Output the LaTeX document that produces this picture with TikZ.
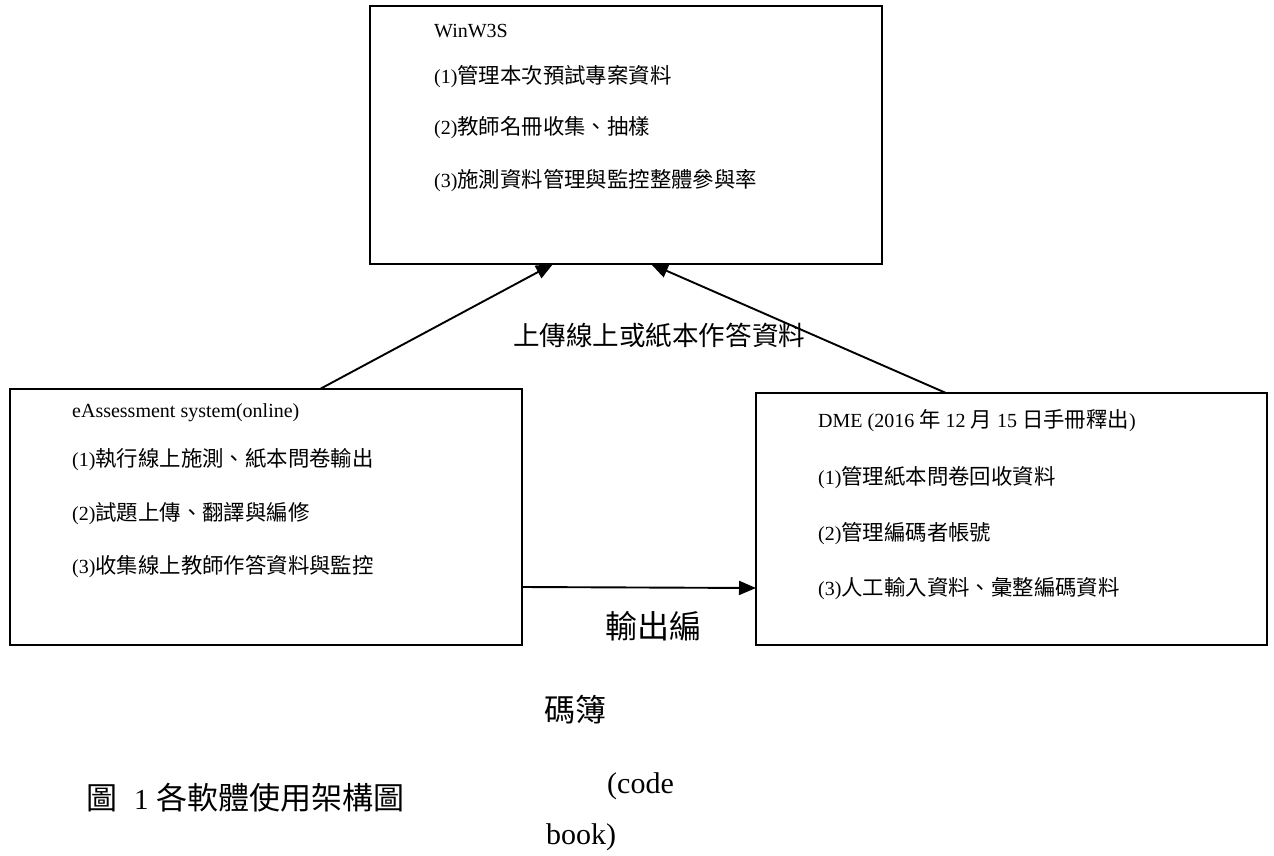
\documentclass[tikz,border=0pt]{standalone}
\usepackage{fontspec}
\setmainfont{Liberation Serif}
\newfontfamily\cjk{Noto Sans CJK TC}[Scale=1.07]
\newcommand\zh[1]{{\cjk #1}}
\usetikzlibrary{arrows.meta}
\tikzset{
  sysbox/.style={draw, line width=1.9pt, rectangle, outer sep=0pt, inner sep=0pt, anchor=north west},
  boxtext/.style={anchor=west, inner sep=0pt, font=\fontsize{20}{24}\selectfont},
  lbl/.style={anchor=west, inner sep=0pt},
  conn/.style={line width=1.9pt, -{Triangle[length=17pt,width=14pt]}},
}
\begin{document}
\begin{tikzpicture}[x=1pt,y=-1pt]
\useasboundingbox (0,0) rectangle (1274,856);
% boxes
\node[sysbox, minimum width=512pt, minimum height=258pt] (top) at (370,6) {};
\node[sysbox, minimum width=512pt, minimum height=256pt] (left) at (10,389) {};
\node[sysbox, minimum width=511pt, minimum height=252pt] (right) at (756,393) {};
% top box text
\node[boxtext] (t0) at (434,31) {WinW3S};
\node[boxtext] (t1) at (434,77) {(1)\zh{管理本次預試專案資料}};
\node[boxtext] (t2) at (434,128) {(2)\zh{教師名冊收集、抽樣}};
\node[boxtext] (t3) at (434,181) {(3)\zh{施測資料管理與監控整體參與率}};
% left box text
\node[boxtext] (l0) at (72,413) {eAssessment system(online)};
\node[boxtext] (l1) at (72,460) {(1)\zh{執行線上施測、紙本問卷輸出}};
\node[boxtext] (l2) at (72,514) {(2)\zh{試題上傳、翻譯與編修}};
\node[boxtext] (l3) at (72,567) {(3)\zh{收集線上教師作答資料與監控}};
% right box text
\node[boxtext] (r0) at (818,421) {DME (2016 \zh{年} 12 \zh{月} 15 \zh{日手冊釋出})};
\node[boxtext] (r1) at (818,478) {(1)\zh{管理紙本問卷回收資料}};
\node[boxtext] (r2) at (818,534) {(2)\zh{管理編碼者帳號}};
\node[boxtext] (r3) at (818,589) {(3)\zh{人工輸入資料、彙整編碼資料}};
% connectors
\draw[conn] ([xshift=310pt]left.north west) -- ([xshift=183pt]top.south west);
\draw[conn] ([xshift=190pt]right.north west) -- ([xshift=281pt]top.south west);
\draw[conn] ([yshift=-70pt]left.east) -- ([yshift=-69pt]right.west);
% labels
\node[lbl, font=\fontsize{24.8}{28}\selectfont] (up) at (513,335) {\zh{上傳線上或紙本作答資料}};
\node[lbl, font=\fontsize{30}{34}\selectfont] (out1) at (605,626) {\zh{輸出編}};
\node[lbl, font=\fontsize{29}{33}\selectfont] (out2) at (544,710) {\zh{碼簿}};
\node[lbl, anchor=base west, font=\fontsize{30}{34}\selectfont] (out3) at (607,793) {(code};
\node[lbl, anchor=base west, font=\fontsize{30}{34}\selectfont] (out4) at (546,844) {book)};
\node[lbl, font=\fontsize{29}{33}\selectfont] (cap) at (86,798)
  {\zh{圖}\hspace{17pt}1\hspace{8pt}\zh{各軟體使用架構圖}};
\end{tikzpicture}
\end{document}
